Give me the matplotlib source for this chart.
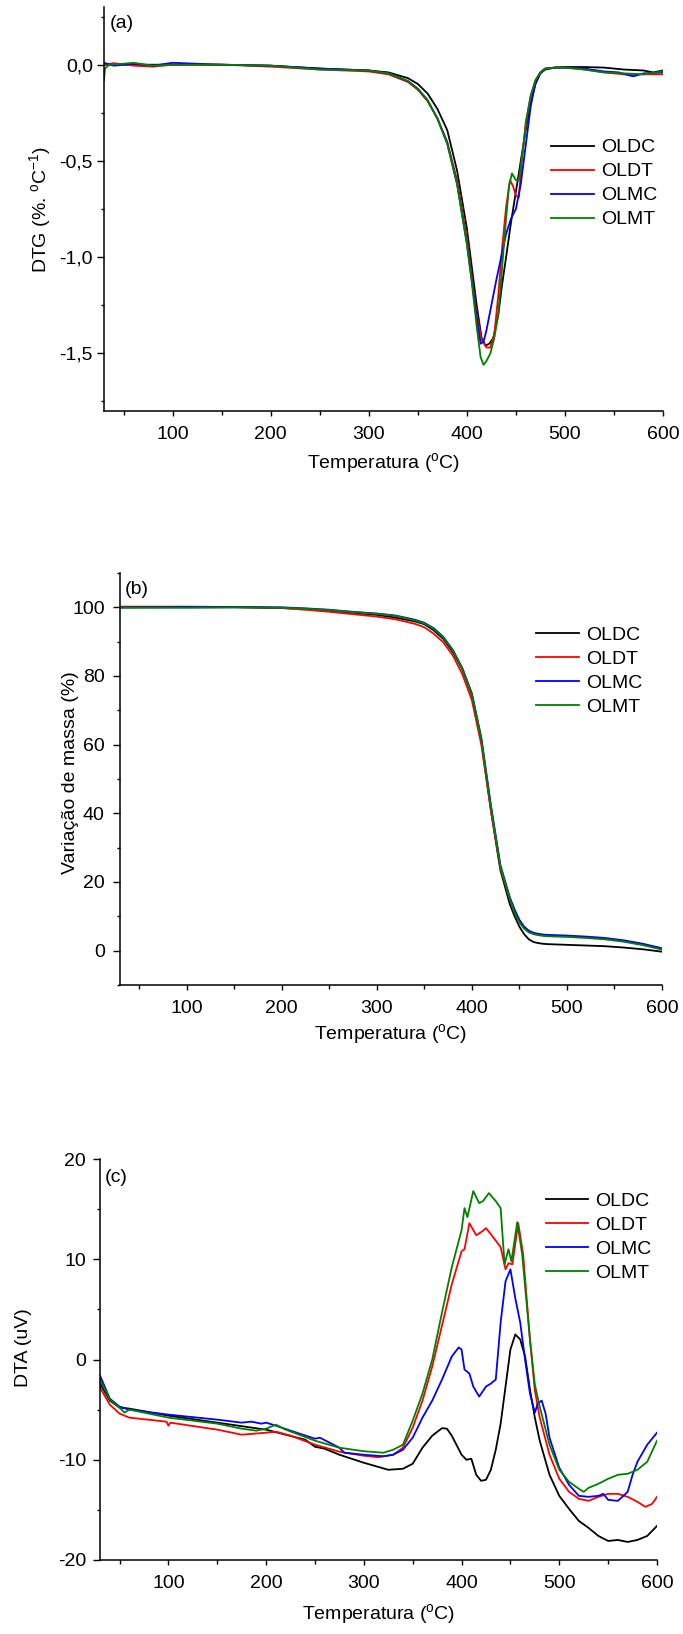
import numpy as np
import matplotlib
matplotlib.use('Agg')
import matplotlib.pyplot as plt
from matplotlib.ticker import MultipleLocator, FuncFormatter

plt.rcParams['font.family'] = ['Liberation Sans', 'DejaVu Sans']
plt.rcParams['mathtext.fontset'] = 'custom'
plt.rcParams['mathtext.rm'] = 'Liberation Sans'
plt.rcParams['mathtext.it'] = 'Liberation Sans:italic'
plt.rcParams['axes.unicode_minus'] = False

names = ['OLDC', 'OLDT', 'OLMC', 'OLMT']
colors = ['#000000', '#ff0000', '#0000ff', '#008000']

# ---- (a) DTG ----
dtg_t = {
    'OLDC': [30, 60, 100, 150, 200, 250, 300, 320, 340, 350, 360, 370, 380, 390, 400, 405, 410, 415,
             419, 423, 427, 432, 436, 440, 445, 450, 455, 460, 465, 470, 475, 480, 490, 500, 520, 540,
             560, 580, 590, 600],
    'OLDT': [30, 40, 60, 80, 100, 150, 200, 250, 300, 320, 340, 350, 360, 370, 380, 390, 400, 405, 410,
             415, 420, 424, 428, 432, 436, 440, 444, 447, 450, 453, 456, 460, 465, 470, 475, 480, 490,
             500, 520, 540, 560, 580, 600],
    'OLMC': [30, 40, 60, 80, 100, 150, 200, 250, 300, 320, 340, 350, 360, 370, 380, 390, 400, 405, 410,
             414, 417, 420, 425, 430, 435, 440, 445, 450, 455, 460, 465, 470, 475, 480, 490, 500, 520,
             540, 555, 565, 570, 580, 600],
    'OLMT': [30, 31, 35, 50, 60, 80, 100, 150, 200, 250, 300, 320, 340, 350, 360, 370, 380, 390, 400,
             405, 410, 414, 417, 420, 424, 428, 432, 436, 440, 443, 446, 450, 453, 457, 461, 465, 470,
             475, 480, 490, 500, 520, 540, 560, 580, 600],
}
dtg_v = {
    'OLDC': [0.0, 0.0, 0.0, 0.0, -0.005, -0.02, -0.03, -0.04, -0.07, -0.1, -0.15, -0.23, -0.34, -0.55,
             -0.85, -1.05, -1.25, -1.42, -1.46, -1.45, -1.42, -1.3, -1.14, -1.0, -0.82, -0.66, -0.5,
             -0.34, -0.2, -0.1, -0.045, -0.025, -0.015, -0.012, -0.012, -0.015, -0.025, -0.03, -0.04,
             -0.03],
    'OLDT': [0.0, 0.008, -0.005, -0.01, 0.0, 0.0, -0.01, -0.025, -0.035, -0.05, -0.09, -0.13, -0.19,
             -0.28, -0.4, -0.6, -0.9, -1.1, -1.3, -1.43, -1.47, -1.47, -1.4, -1.2, -0.95, -0.74, -0.6,
             -0.63, -0.68, -0.69, -0.5, -0.3, -0.17, -0.08, -0.04, -0.02, -0.015, -0.015, -0.025, -0.04,
             -0.05, -0.05, -0.05],
    'OLMC': [0.01, -0.005, 0.005, -0.005, 0.01, 0.0, -0.005, -0.02, -0.03, -0.045, -0.085, -0.125,
             -0.185, -0.28, -0.41, -0.62, -0.93, -1.12, -1.32, -1.45, -1.44, -1.38, -1.25, -1.12, -1.0,
             -0.88, -0.8, -0.75, -0.62, -0.42, -0.22, -0.09, -0.04, -0.02, -0.015, -0.015, -0.02, -0.035,
             -0.04, -0.055, -0.06, -0.045, -0.04],
    'OLMT': [-0.08, -0.02, 0.0, 0.005, 0.01, -0.005, 0.0, 0.0, -0.005, -0.025, -0.03, -0.045, -0.085,
             -0.125, -0.185, -0.28, -0.41, -0.62, -0.93, -1.13, -1.36, -1.52, -1.56, -1.54, -1.5, -1.42,
             -1.3, -1.05, -0.8, -0.63, -0.565, -0.6, -0.6, -0.45, -0.28, -0.16, -0.08, -0.04, -0.02,
             -0.015, -0.015, -0.025, -0.04, -0.045, -0.05, -0.035],
}

# ---- (b) TG ----
tg_t = [30, 100, 150, 200, 225, 250, 275, 300, 320, 340, 350, 360, 370, 380, 390, 400, 410, 420, 430,
        440, 445, 450, 455, 460, 465, 470, 475, 480, 500, 520, 540, 560, 580, 600]
tg_v = {
    'OLDC': [100, 100, 100, 99.8, 99.5, 99.0, 98.4, 97.8, 97.0, 95.9, 95.1, 93.3, 90.8, 87.0, 82.0,
             74.5, 61.0, 41.0, 23.5, 13.5, 10.0, 7.0, 4.8, 3.3, 2.5, 2.2, 2.0, 1.9, 1.7, 1.5, 1.3, 0.9,
             0.4, -0.3],
    'OLDT': [100.2, 100.2, 100.1, 99.8, 99.3, 98.7, 98.0, 97.3, 96.5, 95.2, 94.2, 92.3, 89.8, 86.0,
             80.5, 73.0, 60.0, 41.0, 24.0, 15.0, 11.5, 8.7, 6.8, 5.6, 5.0, 4.7, 4.5, 4.4, 4.2, 3.9, 3.5,
             2.8, 1.8, 0.5],
    'OLMC': [100, 100.1, 100.1, 100.0, 99.7, 99.3, 98.7, 98.2, 97.6, 96.4, 95.5, 93.9, 91.4, 87.6, 82.3,
             75.0, 62.0, 42.5, 25.0, 15.5, 12.0, 9.0, 7.0, 5.8, 5.2, 4.9, 4.7, 4.6, 4.4, 4.1, 3.7, 3.0,
             2.0, 0.7],
    'OLMT': [99.9, 99.9, 100.0, 99.9, 99.6, 99.2, 98.6, 98.1, 97.5, 96.2, 95.3, 93.7, 91.2, 87.4, 82.0,
             74.7, 61.5, 42.0, 24.5, 15.0, 11.0, 8.2, 6.4, 5.3, 4.8, 4.5, 4.3, 4.2, 4.0, 3.7, 3.3, 2.6,
             1.6, 0.3],
}

# ---- (c) DTA ----
dta_t = {
    'OLDC': [30, 40, 50, 60, 100, 150, 200, 220, 240, 250, 260, 275, 300, 325, 340, 350, 360, 370, 380,
             385, 390, 400, 405, 410, 415, 420, 425, 430, 435, 440, 445, 450, 455, 460, 465, 470, 475,
             480, 490, 500, 510, 520, 530, 540, 550, 560, 570, 580, 590, 600],
    'OLDT': [30, 40, 50, 60, 98, 100, 102, 150, 175, 200, 210, 225, 250, 275, 300, 315, 330, 340, 350,
             360, 370, 380, 390, 400, 403, 408, 415, 420, 425, 430, 440, 445, 448, 452, 458, 463, 470,
             475, 480, 490, 500, 510, 520, 530, 540, 550, 560, 570, 580, 588, 595, 600],
    'OLMC': [30, 40, 50, 60, 100, 150, 175, 185, 195, 200, 210, 225, 250, 255, 275, 280, 300, 320, 330,
             340, 350, 360, 370, 380, 390, 397, 400, 403, 408, 412, 418, 425, 430, 435, 440, 445, 450,
             455, 460, 465, 470, 475, 478, 482, 486, 490, 500, 510, 520, 530, 540, 545, 550, 560, 570,
             575, 580, 590, 600],
    'OLMT': [30, 40, 50, 55, 60, 100, 150, 175, 190, 200, 210, 220, 250, 275, 300, 320, 330, 340, 350,
             360, 370, 380, 390, 400, 403, 406, 412, 418, 422, 428, 435, 440, 444, 448, 451, 457, 462,
             470, 475, 480, 490, 500, 510, 520, 525, 530, 540, 550, 560, 570, 580, 590, 600],
}
dta_v = {
    'OLDC': [-2.4, -4.1, -4.8, -4.9, -5.6, -6.3, -7.0, -7.5, -8.0, -8.7, -8.9, -9.5, -10.3, -11.0,
             -10.9, -10.4, -8.8, -7.6, -6.85, -6.9, -7.6, -9.5, -10.0, -9.9, -11.5, -12.1, -12.0, -11.0,
             -9.0, -6.4, -2.7, 1.0, 2.5, 2.0, 0.3, -3.0, -5.8, -8.1, -11.5, -13.6, -14.9, -16.1, -16.8,
             -17.6, -18.1, -18.0, -18.2, -18.0, -17.6, -16.6],
    'OLDT': [-2.8, -4.5, -5.4, -5.8, -6.2, -6.6, -6.3, -7.0, -7.5, -7.3, -7.2, -7.6, -8.5, -9.2, -9.6,
             -9.75, -9.5, -8.8, -6.8, -4.1, -0.7, 3.4, 7.5, 10.8, 11.0, 13.6, 12.4, 12.7, 13.1, 12.5, 11.2,
             9.0, 9.6, 9.5, 13.6, 10.5, 2.0, -3.1, -5.8, -9.5, -11.9, -13.2, -13.9, -14.1, -13.7, -13.4,
             -13.4, -13.7, -14.2, -14.7, -14.4, -13.7],
    'OLMC': [-1.6, -3.9, -4.7, -5.0, -5.5, -6.0, -6.3, -6.2, -6.4, -6.3, -6.6, -7.1, -7.9, -7.8, -8.8,
             -9.3, -9.5, -9.65, -9.5, -9.0, -7.8, -5.8, -4.1, -2.0, 0.3, 1.2, 1.0, -1.0, -1.4, -2.7, -3.7,
             -2.7, -2.4, -2.0, 3.7, 7.8, 9.0, 6.1, 3.7, 0.0, -3.4, -5.3, -4.4, -4.1, -5.4, -7.8, -10.8,
             -12.5, -13.6, -13.7, -13.6, -13.4, -14.0, -14.1, -13.2, -11.5, -10.2, -8.5, -7.3],
    'OLMT': [-2.0, -4.0, -4.8, -5.3, -5.0, -5.8, -6.4, -6.9, -7.1, -6.9, -6.5, -7.0, -8.1, -8.8, -9.15,
             -9.3, -9.0, -8.5, -6.1, -3.4, 0.0, 4.7, 9.2, 12.9, 15.1, 14.2, 16.8, 15.6, 15.8, 16.6, 15.8,
             15.1, 9.5, 11.0, 9.8, 13.7, 10.5, 2.0, -2.5, -4.7, -8.5, -11.0, -12.2, -12.9, -13.2, -12.8,
             -12.4, -11.9, -11.5, -11.4, -11.0, -10.2, -8.1],
}

W, H = 683, 1634
fig = plt.figure(figsize=(W / 100, H / 100), dpi=100)


def add_axes(left, right, top, bottom):
    return fig.add_axes([left / W, 1 - bottom / H, (right - left) / W, (bottom - top) / H])


def style(ax, ypad):
    for s in ['top', 'right']:
        ax.spines[s].set_visible(False)
    for s in ['left', 'bottom']:
        ax.spines[s].set_linewidth(1.1)
    ax.set_xlim(30, 600)
    ax.xaxis.set_major_locator(MultipleLocator(100))
    ax.xaxis.set_minor_locator(MultipleLocator(50))
    ax.tick_params(axis='x', which='major', direction='out', length=3.5, width=1.0, pad=7, labelsize=14)
    ax.tick_params(axis='x', which='minor', direction='out', length=3, width=1.0)
    ax.tick_params(axis='y', which='major', direction='out', length=5, width=1.0, pad=ypad, labelsize=14)
    ax.tick_params(axis='y', which='minor', direction='out', length=2.5, width=1.0)


def legend(ax, x, y):
    ax.legend(loc='upper left', bbox_to_anchor=(x, y), frameon=False, fontsize=14,
              handlelength=2.2, handletextpad=0.35, labelspacing=0.33, borderpad=0, borderaxespad=0)


xlab = r'Temperatura ($^{\mathrm{o}}$C)'

# (a)
ax1 = add_axes(104, 663, 7, 411)
for n, c in zip(names, colors):
    ax1.plot(dtg_t[n], dtg_v[n], color=c, lw=1.3, label=n)
style(ax1, 3)
ax1.set_ylim(-1.8, 0.3)
ax1.yaxis.set_major_locator(MultipleLocator(0.5))
ax1.yaxis.set_minor_locator(MultipleLocator(0.25))
ax1.yaxis.set_major_formatter(FuncFormatter(lambda v, p: ('%.1f' % v).replace('.', ',') if abs(v) > 1e-9 else '0,0'))
ax1.set_ylabel(r'DTG (%. $^{\mathrm{o}}$C$^{\mathrm{-1}}$)', fontsize=14, va='center')
ax1.yaxis.set_label_coords(-0.115, 0.5)
ax1.set_xlabel(xlab, fontsize=14, va='center')
ax1.xaxis.set_label_coords(0.5, -0.129)
ax1.text(0.011, 0.96, '(a)', transform=ax1.transAxes, fontsize=14, va='center')
legend(ax1, 0.80, 0.674)

# (b)
ax2 = add_axes(120, 662, 573, 985)
for n, c in zip(names, colors):
    ax2.plot(tg_t, tg_v[n], color=c, lw=1.3, label=n)
style(ax2, 6)
ax2.set_ylim(-10, 110)
ax2.yaxis.set_major_locator(MultipleLocator(20))
ax2.yaxis.set_minor_locator(MultipleLocator(10))
ax2.set_ylabel('Variação de massa (%)', fontsize=14, va='center')
ax2.yaxis.set_label_coords(-0.092, 0.516)
ax2.set_xlabel(xlab, fontsize=14, va='center')
ax2.xaxis.set_label_coords(0.5, -0.119)
ax2.text(0.009, 0.959, '(b)', transform=ax2.transAxes, fontsize=14, va='center')
legend(ax2, 0.768, 0.871)

# (c)
ax3 = add_axes(100, 657, 1159, 1560)
for n, c in zip(names, colors):
    ax3.plot(dta_t[n], dta_v[n], color=c, lw=1.3, label=n)
style(ax3, 5)
ax3.set_ylim(-20, 20)
ax3.yaxis.set_major_locator(MultipleLocator(10))
ax3.yaxis.set_minor_locator(MultipleLocator(5))
ax3.set_ylabel('DTA (uV)', fontsize=14, va='center')
ax3.yaxis.set_label_coords(-0.138, 0.53)
ax3.set_xlabel(xlab, fontsize=14, va='center')
ax3.xaxis.set_label_coords(0.5, -0.135)
ax3.text(0.009, 0.955, '(c)', transform=ax3.transAxes, fontsize=14, va='center')
legend(ax3, 0.80, 0.917)

fig.savefig('out.png', dpi=100)
